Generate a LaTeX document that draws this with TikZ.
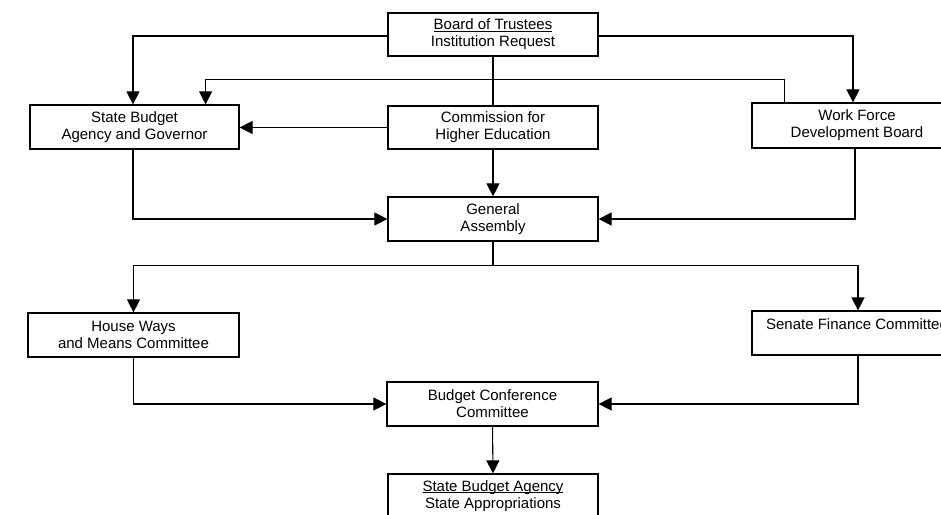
\documentclass[tikz,border=0pt]{standalone}
\usepackage{fontspec}
\setmainfont{Liberation Sans}
\usetikzlibrary{arrows.meta}
\newcommand\myul[1]{\setbox0\hbox{#1}\rlap{\rule[-1.6pt]{\wd0}{0.8pt}}\box0}
\tikzset{
  box/.style={draw, line width=1.2pt, rectangle, align=center, inner sep=0pt,
    font=\fontsize{15}{17}\selectfont},
  link/.style={line width=1.1pt},
  arr/.style={line width=1.1pt, -{Triangle[length=13pt,width=13pt]}}
}
\begin{document}
\begin{tikzpicture}[x=1pt,y=-1pt]
\useasboundingbox (0,0) rectangle (941,514);
\clip (0,0) rectangle (941,514);
% boxes
\node[box, minimum width=210pt, minimum height=43pt] (board) at (493,34.5) {\myul{Board of Trustees}\\Institution Request};
\node[box, minimum width=209pt, minimum height=44pt] (sb) at (134.5,127) {State Budget\\Agency and Governor};
\node[box, minimum width=210pt, minimum height=43pt] (comm) at (493,127.5) {Commission for\\Higher Education};
\node[box, minimum width=210pt, minimum height=45pt] (wf) at (857,125.5) {Work Force\\Development Board};
\node[box, minimum width=210pt, minimum height=44pt] (ga) at (493,219) {General\\Assembly};
\node[box, minimum width=211pt, minimum height=44pt] (hw) at (133.5,335) {House Ways\\and Means Committee};
\node[box, minimum width=210pt, minimum height=44pt] (sf) at (857,333) {Senate Finance Committee\\\mbox{}};
\node[box, minimum width=211pt, minimum height=44pt] (bc) at (492.5,404) {Budget Conference\\Committee};
\node[box, minimum width=210pt, minimum height=44pt] (sba) at (493,496) {\myul{State Budget Agency}\\State Appropriations};
% connectors
\draw[arr] ([yshift=-1.5pt]board.west) -| ([xshift=-1.5pt]sb.north);
\draw[arr] ([yshift=-1.5pt]board.east) -| ([xshift=-4pt]wf.north);
\draw[link] (board.south) -- (comm.north);
\coordinate (wfup) at ([xshift=33pt]wf.north west);
\draw[arr] (wfup) -- ++(0,-23) -| ([xshift=-34pt]sb.north east);
\draw[arr] (comm.west) -- (comm.west -| sb.east);
\draw[arr] (comm.south) -- (ga.north);
\draw[arr] ([xshift=-1.5pt]sb.south) |- (ga.west);
\draw[arr] ([xshift=-2pt]wf.south) |- (ga.east);
\draw[link] (ga.south) -- ++(0,24) coordinate (split);
\draw[arr] (split) -| (hw.north);
\draw[arr] (split) -| ([xshift=1pt]sf.north);
\draw[arr] (hw.south) |- (bc.west);
\draw[arr] ([xshift=1pt]sf.south) |- (bc.east);
\draw[arr] (bc.south) -- (sba.north);
\end{tikzpicture}
\end{document}
